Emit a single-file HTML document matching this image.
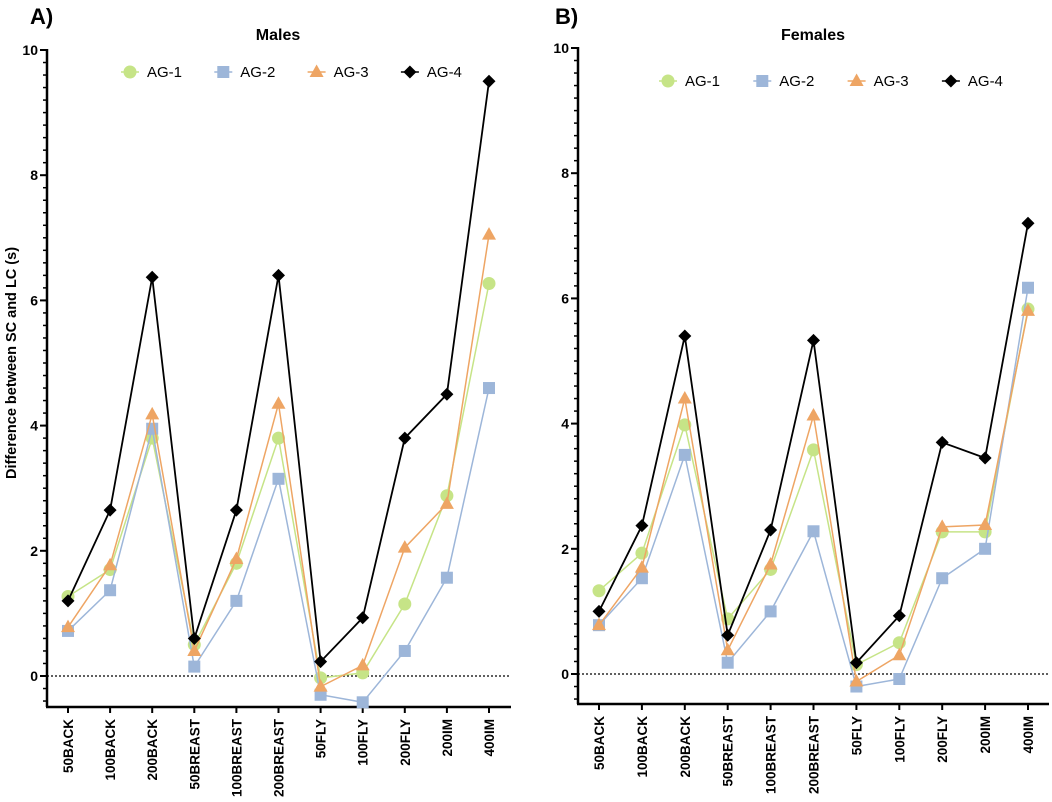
<!DOCTYPE html>
<html><head><meta charset="utf-8"><style>
body{margin:0;background:#fff;}
svg{display:block;font-family:"Liberation Sans",Arial,sans-serif;}
</style></head><body>
<svg id="chart" width="1052" height="802" viewBox="0 0 1052 802"></svg>
<script>
const categories=["50BACK","100BACK","200BACK","50BREAST","100BREAST","200BREAST","50FLY","100FLY","200FLY","200IM","400IM"];
const seriesNames=["AG-1","AG-2","AG-3","AG-4"];
const yTicks=[0,2,4,6,8,10];
const maleAG1=[1.27,1.7,3.8,0.5,1.8,3.8,-0.03,0.05,1.15,2.88,6.27];
const maleAG2=[0.72,1.37,3.95,0.15,1.2,3.15,-0.3,-0.42,0.4,1.57,4.6];
const maleAG3=[0.78,1.77,4.18,0.4,1.87,4.35,-0.17,0.17,2.05,2.75,7.05];
const maleAG4=[1.2,2.65,6.37,0.6,2.65,6.4,0.23,0.93,3.8,4.5,9.5];
const femaleAG1=[1.33,1.93,3.98,0.88,1.67,3.58,0.15,0.5,2.27,2.27,5.83];
const femaleAG2=[0.78,1.53,3.5,0.18,1.0,2.28,-0.2,-0.08,1.53,2.0,6.17];
const femaleAG3=[0.78,1.7,4.4,0.38,1.75,4.13,-0.12,0.3,2.35,2.38,5.8];
const femaleAG4=[1.0,2.37,5.4,0.62,2.3,5.33,0.18,0.93,3.7,3.45,7.2];

const NS="http://www.w3.org/2000/svg";
const svg=document.getElementById('chart');
const colors=["#c6e487","#9db6d9","#eea564","#000000"];
const shapes=["circle","square","triangle","diamond"];
function mk(tag,attrs,parent){const e=document.createElementNS(NS,tag);for(const k in attrs)e.setAttribute(k,attrs[k]);(parent||svg).appendChild(e);return e;}

function marker(g,shape,x,y,c){
  let e;
  if(shape==="circle") e=mk('circle',{cx:x,cy:y,r:6.5,fill:c},g);
  else if(shape==="square") e=mk('rect',{x:x-6,y:y-6,width:12,height:12,fill:c},g);
  else if(shape==="triangle") e=mk('polygon',{points:`${x},${y-7.5} ${x+7},${y+5} ${x-7},${y+5}`,fill:c},g);
  else e=mk('polygon',{points:`${x},${y-6.5} ${x+6.5},${y} ${x},${y+6.5} ${x-6.5},${y}`,fill:c},g);
  return e;
}

function drawPanel(p){
  const yS=v=>p.y0-v*p.unit;
  const xS=i=>p.x0+i*p.step;
  const g=mk('g',{});
  
  
  const lab=mk('text',{x:p.labX,y:24,'font-size':22,'font-weight':'bold'},g);lab.textContent=p.letter;
  
  
  const t=mk('text',{x:p.titleX,y:40,'font-size':16,'font-weight':'bold','text-anchor':'middle'},g);t.textContent=p.title;
  
  
  const ya=mk('line',{x1:p.ax,y1:yS(10)-1,x2:p.ax,y2:p.axisY,stroke:'#000','stroke-width':2.5},g);
  
  
  const xa=mk('line',{x1:p.ax-1,y1:p.axisY,x2:p.xEnd,y2:p.axisY,stroke:'#000','stroke-width':2.5},g);
  
  
  if(p.minor){for(let v=-0.4;v<=10.001;v+=0.2){mk('line',{x1:p.ax-4,y1:yS(v),x2:p.ax,y2:yS(v),stroke:'#000','stroke-width':1.5},g);}}
  yTicks.forEach(v=>{
    mk('line',{x1:p.ax-7,y1:yS(v),x2:p.ax,y2:yS(v),stroke:'#000','stroke-width':2},g);
    const tl=mk('text',{x:p.ax-9,y:yS(v)+5,'font-size':14,'font-weight':'bold','text-anchor':'end'},g);tl.textContent=v;
    
    
  });
  mk('line',{x1:p.ax,y1:yS(0),x2:p.xEnd,y2:yS(0),stroke:'#000','stroke-width':1.3,'stroke-dasharray':'2,2'},g);
  categories.forEach((c,i)=>{
    mk('line',{x1:xS(i),y1:p.axisY,x2:xS(i),y2:p.axisY+6,stroke:'#000','stroke-width':2},g);
    const tl=mk('text',{x:0,y:0,'font-size':13.5,'font-weight':'bold','text-anchor':'end',transform:`translate(${xS(i)+5},${p.axisY+12}) rotate(-90)`},g);tl.textContent=c;
    
    
  });
  p.series.forEach((vals,s)=>{
    const sg=mk('g',{},g);
    
    
    const pts=vals.map((v,i)=>xS(i)+','+yS(v)).join(' ');
    mk('polyline',{points:pts,fill:'none',stroke:colors[s],'stroke-width':s===3?1.8:1.5},sg);
    vals.forEach((v,i)=>{
      const m=marker(sg,shapes[s],xS(i),yS(v),colors[s]);
      
      
    });
  });
  seriesNames.forEach((n,s)=>{
    const lg=mk('g',{},g);
    
    
    const mx=p.legX+s*p.legStep;
    mk('line',{x1:mx-9,y1:p.legY,x2:mx+9,y2:p.legY,stroke:colors[s],'stroke-width':1.5},lg);
    marker(lg,shapes[s],mx,p.legY,colors[s]);
    const tx=mk('text',{x:mx+17,y:p.legY+5,'font-size':15},lg);tx.textContent=n;
  });
}

drawPanel({name:'males',letter:'A)',labX:30,title:'Males',titleX:278,ax:47,y0:676,unit:62.6,axisY:707,xEnd:511,x0:68,step:42.1,minor:true,legX:130,legStep:93.3,legY:72,series:[maleAG1,maleAG2,maleAG3,maleAG4]});
drawPanel({name:'females',letter:'B)',labX:555,title:'Females',titleX:813,ax:578,y0:674,unit:62.6,axisY:704,xEnd:1049,x0:599,step:42.9,minor:true,legX:668,legStep:94.3,legY:81,series:[femaleAG1,femaleAG2,femaleAG3,femaleAG4]});

const yt=mk('text',{x:0,y:0,'font-size':14.5,'font-weight':'bold','text-anchor':'middle',transform:'translate(16,363) rotate(-90)'});
yt.textContent='Difference between SC and LC (s)';


</script>
</body></html>
